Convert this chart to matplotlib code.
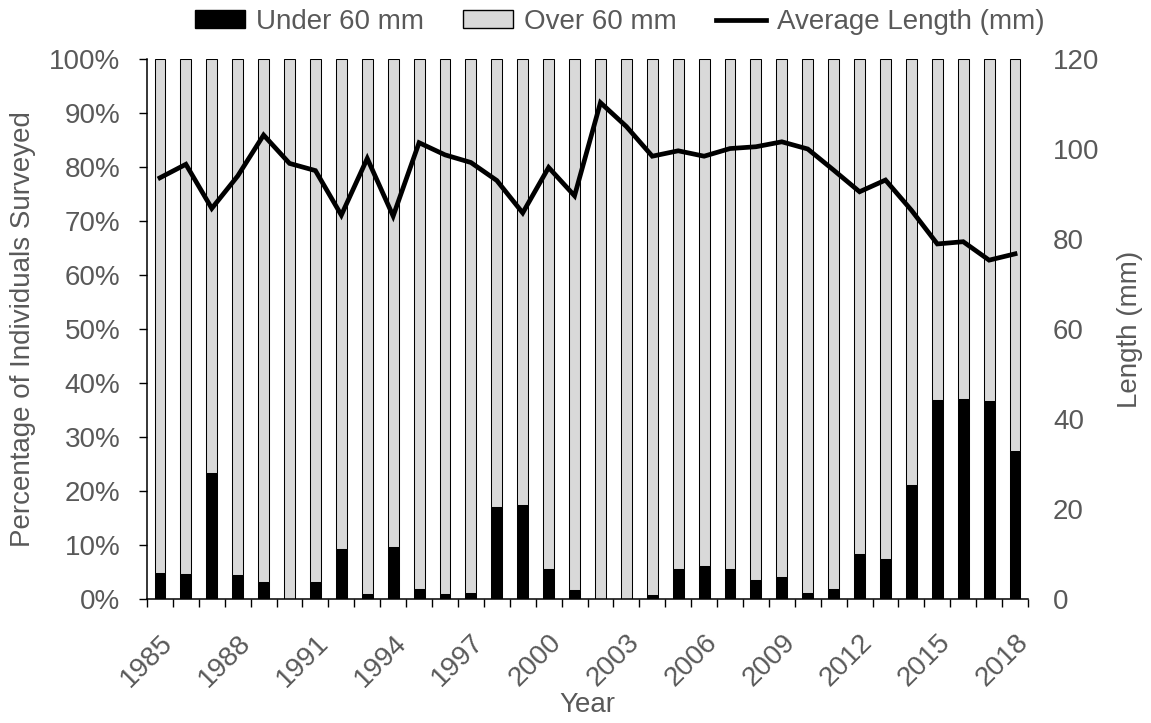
import numpy as np
import matplotlib.pyplot as plt
from matplotlib.patches import Patch
from matplotlib.lines import Line2D

plt.rcParams['font.family'] = ['Liberation Sans', 'DejaVu Sans']

years = list(range(1985, 2019))
under_60 = [4.9, 4.6, 23.3, 4.5, 3.1, 0.0, 3.1, 9.3, 1.0, 9.6,
            1.9, 1.0, 1.2, 17.0, 17.4, 5.6, 1.6, 0.0, 0.0, 0.7,
            5.6, 6.2, 5.6, 3.6, 4.0, 1.1, 1.9, 8.3, 7.4, 21.1,
            36.9, 37.0, 36.7, 27.5]
over_60 = [100 - u for u in under_60]
avg_length = [93.6, 96.6, 86.8, 94.0, 103.1, 96.8, 95.2, 85.3, 97.9, 85.1,
              101.4, 98.7, 97.0, 93.0, 85.8, 95.9, 89.6, 110.3, 105.0, 98.4,
              99.6, 98.4, 100.1, 100.5, 101.6, 100.0, 95.3, 90.5, 93.1, 86.4,
              78.9, 79.4, 75.3, 76.7]

txt = '#595959'
gray = '#d9d9d9'
fs = 20

x = np.arange(len(years))
fig = plt.figure(figsize=(11.51, 7.23), dpi=100)
L, R, T, B = 147, 1028, 59, 599
ax = fig.add_axes([L / 1151, 1 - B / 723, (R - L) / 1151, (B - T) / 723])

w = 0.42
ax.bar(x, under_60, w, color='black', edgecolor='black', linewidth=0.75, zorder=2)
ax.bar(x, over_60, w, bottom=under_60, color=gray, edgecolor='black', linewidth=0.75, zorder=2)

ax.set_xlim(-0.5, len(years) - 0.5)
ax.set_ylim(0, 100)
ax.set_yticks(np.arange(0, 101, 10))
ax.set_yticklabels([f'{v}%' for v in range(0, 101, 10)])

# ticks at category boundaries, labels every 3 years at bar centres
ax.set_xticks(np.arange(-0.5, len(years), 1), minor=True)
ax.set_xticks(x[::3])
ax.set_xticklabels([str(y) for y in years[::3]], rotation=45, ha='right',
                   va='top', rotation_mode='anchor')
ax.tick_params(axis='x', which='major', length=0, pad=22, labelsize=fs, labelcolor=txt)
ax.tick_params(axis='x', which='minor', length=6, width=1, direction='out', color='black')
ax.tick_params(axis='y', length=6, width=1, direction='out', pad=13, labelsize=fs, labelcolor=txt)

for s in ['top', 'right']:
    ax.spines[s].set_visible(False)
for s in ['left', 'bottom']:
    ax.spines[s].set_linewidth(1.1)
    ax.spines[s].set_color('black')

ax.set_xlabel('Year', fontsize=fs, color=txt)
ax.xaxis.set_label_coords(0.5, (B - 692) / (B - T))
ax.set_ylabel('Percentage of Individuals Surveyed', fontsize=fs, color=txt)
ax.yaxis.set_label_coords((36 - L) / (R - L), 0.5)

ax2 = ax.twinx()
ax2.plot(x, avg_length, color='black', linewidth=3.4, solid_joinstyle='miter')
ax2.set_ylim(0, 120)
ax2.set_yticks(np.arange(0, 121, 20))
ax2.tick_params(axis='y', length=0, pad=18, labelsize=fs, labelcolor=txt)
for s in ax2.spines.values():
    s.set_visible(False)
ax2.set_ylabel('Length (mm)', fontsize=fs, color=txt)
ax2.yaxis.set_label_coords((1117 - L) / (R - L), 0.5)

handles = [Patch(facecolor='black', edgecolor='black'),
           Patch(facecolor=gray, edgecolor='black', linewidth=1),
           Line2D([0], [0], color='black', linewidth=3.4)]
labels = ['Under 60 mm', 'Over 60 mm', 'Average Length (mm)']
leg = fig.legend(handles, labels, loc='center', bbox_to_anchor=(620 / 1151, 1 - 22 / 723),
                 ncol=3, frameon=False, fontsize=fs, handlelength=1.8, handletextpad=0.4,
                 columnspacing=1.4, handleheight=0.6, borderaxespad=0, borderpad=0)
for t in leg.get_texts():
    t.set_color(txt)

fig.savefig('out.png', dpi=100)
